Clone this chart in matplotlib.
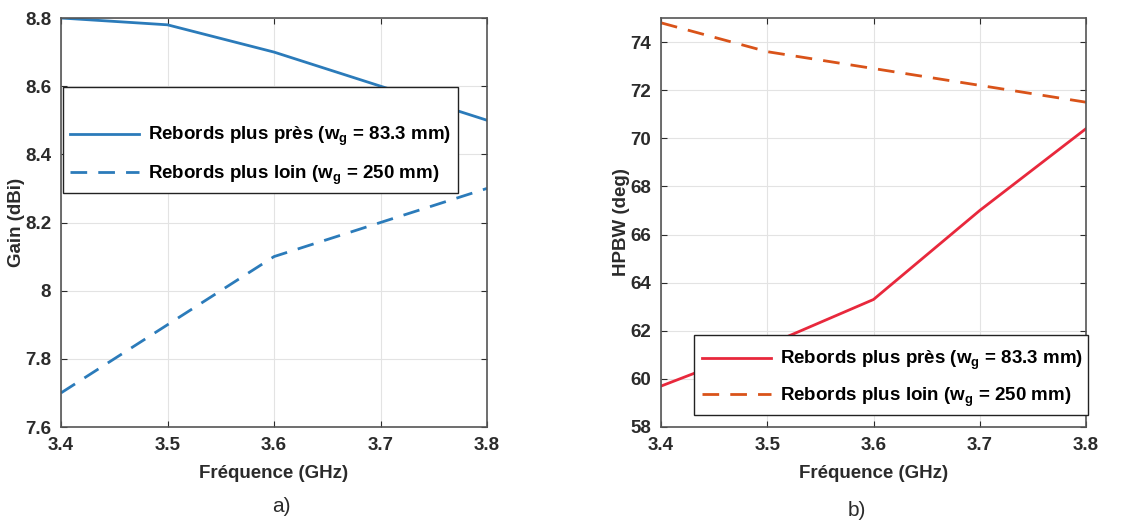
import matplotlib
matplotlib.use("Agg")
import matplotlib.pyplot as plt
from matplotlib.patches import Rectangle

plt.rcParams['font.family'] = ['Liberation Sans', 'DejaVu Sans']
plt.rcParams['mathtext.fontset'] = 'custom'
plt.rcParams['mathtext.bf'] = 'Liberation Sans:bold'
plt.rcParams['mathtext.rm'] = 'Liberation Sans'

freq = [3.4, 3.5, 3.6, 3.7, 3.8]
gain_pres = [8.8, 8.78, 8.7, 8.6, 8.5]
gain_loin = [7.7, 7.9, 8.1, 8.2, 8.3]
hpbw_pres = [59.7, 61.4, 63.3, 67.0, 70.4]
hpbw_loin = [74.8, 73.6, 72.9, 72.2, 71.5]

lab_pres = r"Rebords plus près (w$_\mathbf{g}$ = 83.3 mm)"
lab_loin = r"Rebords plus loin (w$_\mathbf{g}$ = 250 mm)"

W, H = 1145, 527
txtc = '#2b2b2b'


def px(x, y):
    return x / W, 1 - y / H


fig = plt.figure(figsize=(11.45, 5.27), dpi=100)
ax1 = fig.add_axes([61/W, 1-427/H, 426/W, 409/H])
ax2 = fig.add_axes([661/W, 1-427/H, 425/W, 409/H])

ax1.plot(freq, gain_pres, '-', color='#2b7bba', lw=2, label=lab_pres)
ax1.plot(freq, gain_loin, '--', color='#2b7bba', lw=2, dashes=(6, 4), label=lab_loin)
ax1.set_xlim(3.4, 3.8)
ax1.set_ylim(7.6, 8.8)
ax1.set_yticks([7.6, 7.8, 8.0, 8.2, 8.4, 8.6, 8.8])
ax1.set_yticklabels(['7.6', '7.8', '8', '8.2', '8.4', '8.6', '8.8'])
ax1.set_ylabel("Gain (dBi)", fontsize=13.5, fontweight='bold', color=txtc, labelpad=0)

ax2.plot(freq, hpbw_pres, '-', color='#e8283c', lw=2, label=lab_pres)
ax2.plot(freq, hpbw_loin, '--', color='#d95319', lw=2, dashes=(6, 4), label=lab_loin)
ax2.set_xlim(3.4, 3.8)
ax2.set_ylim(58, 75)
ax2.set_yticks(range(58, 75, 2))
ax2.set_ylabel("HPBW (deg)", fontsize=13.5, fontweight='bold', color=txtc, labelpad=0)

# legend boxes (frame drawn separately so padding can differ per side)
legs = [(ax1, (63, 87, 458, 193), (70, 125), 0.8),
        (ax2, (694, 335, 1088, 415), (702, 349), 0.7)]
for ax, box, anchor, lsp in legs:
    x0, y0, x1, y1 = box
    bx, by = px(x0, y1)
    rect = Rectangle((bx, by), (x1 - x0) / W, (y1 - y0) / H, transform=fig.transFigure,
                     facecolor='white', edgecolor='#222222', lw=1.0, zorder=4)
    ax.add_patch(rect)
    rect.set_clip_on(False)
    ax.legend(loc='upper left', bbox_to_anchor=px(*anchor), bbox_transform=fig.transFigure,
              prop={'weight': 'bold', 'size': 13.5}, handlelength=3.7, handletextpad=0.45,
              frameon=False, borderpad=0, borderaxespad=0, labelspacing=lsp)

for ax in (ax1, ax2):
    ax.set_xticks([3.4, 3.5, 3.6, 3.7, 3.8])
    ax.set_xlabel("Fréquence (GHz)", fontsize=13.5, fontweight='bold', color=txtc, labelpad=8)
    ax.grid(True, color='#e3e3e3', lw=0.8)
    ax.tick_params(direction='in', length=4, labelsize=13.5, colors=txtc,
                   top=True, right=True)
    ax.tick_params(axis='x', pad=7)
    ax.tick_params(axis='y', pad=7)
    for lbl in ax.get_xticklabels() + ax.get_yticklabels():
        lbl.set_fontweight('bold')
    for s in ax.spines.values():
        s.set_color('#555555')
        s.set_linewidth(1.2)

fig.text(*px(281, 506), "a)", fontsize=15, ha='center', va='center', color=txtc)
fig.text(*px(857, 511), "b)", fontsize=15, ha='center', va='center', color=txtc)

fig.savefig("out.png", dpi=100)
